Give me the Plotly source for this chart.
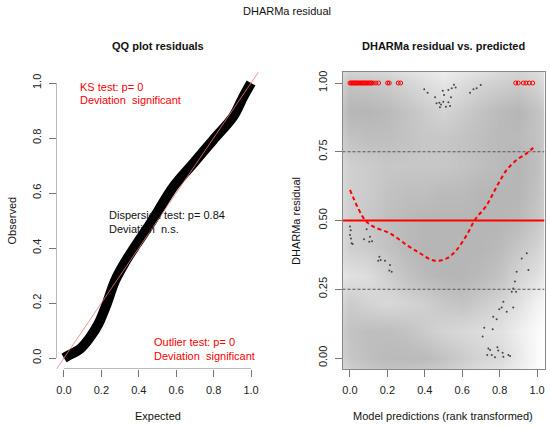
import plotly.graph_objects as go

W, H = 550, 428
FONT = "Liberation Sans, Arial, sans-serif"

# ---- QQ plot (left) ----
qq_expected = [0.0, 0.02, 0.086, 0.139, 0.184, 0.228, 0.273, 0.326, 0.389, 0.46, 0.49, 0.585, 0.692, 0.798, 0.905, 0.959, 1.0]
qq_observed = [0.0, 0.008, 0.033, 0.075, 0.124, 0.196, 0.281, 0.348, 0.415, 0.487, 0.52, 0.623, 0.708, 0.793, 0.878, 0.95, 1.0]

# ---- residual vs predicted (right) ----
grid_x = [-0.04, 0.0, 0.1, 0.2, 0.3, 0.4, 0.5, 0.6, 0.7, 0.8, 0.9, 1.0, 1.04]
grid_y = [-0.04, 0.0, 0.1, 0.2, 0.3, 0.4, 0.5, 0.6, 0.7, 0.8, 0.9, 1.0, 1.04]
density = [
    [0.45, 0.55, 0.65, 0.70, 0.70, 0.65, 0.60, 0.50, 0.40, 0.35, 0.20, 0.05, 0.00],
    [0.55, 0.65, 0.75, 0.80, 0.80, 0.80, 0.70, 0.60, 0.50, 0.45, 0.25, 0.05, 0.00],
    [0.60, 0.70, 0.75, 0.75, 0.70, 0.60, 0.50, 0.45, 0.40, 0.35, 0.20, 0.05, 0.00],
    [0.50, 0.60, 0.50, 0.45, 0.50, 0.55, 0.65, 0.70, 0.60, 0.50, 0.35, 0.15, 0.10],
    [0.30, 0.35, 0.40, 0.55, 0.70, 0.80, 0.85, 0.85, 0.80, 0.70, 0.50, 0.35, 0.25],
    [0.45, 0.55, 0.60, 0.70, 0.80, 0.85, 0.85, 0.85, 0.85, 0.80, 0.65, 0.50, 0.40],
    [0.45, 0.55, 0.65, 0.75, 0.80, 0.85, 0.85, 0.85, 0.85, 0.85, 0.80, 0.65, 0.55],
    [0.45, 0.55, 0.60, 0.70, 0.75, 0.75, 0.80, 0.80, 0.85, 0.85, 0.85, 0.70, 0.60],
    [0.45, 0.55, 0.60, 0.65, 0.65, 0.65, 0.65, 0.70, 0.75, 0.80, 0.85, 0.75, 0.60],
    [0.60, 0.70, 0.75, 0.75, 0.70, 0.65, 0.65, 0.70, 0.75, 0.80, 0.80, 0.70, 0.60],
    [0.70, 0.85, 0.85, 0.80, 0.70, 0.60, 0.50, 0.60, 0.70, 0.80, 0.85, 0.70, 0.60],
    [0.55, 0.70, 0.65, 0.60, 0.50, 0.40, 0.30, 0.40, 0.50, 0.55, 0.60, 0.50, 0.40],
    [0.40, 0.50, 0.50, 0.45, 0.35, 0.30, 0.20, 0.30, 0.35, 0.45, 0.50, 0.40, 0.30],
]

dots_x = [0.397, 0.415, 0.455, 0.463, 0.478, 0.487, 0.499, 0.513, 0.526, 0.535, 0.540, 0.503, 0.496, 0.526, 0.544, 0.556, 0.565, 0.642, 0.660, 0.677, 0.699, 0.481,
          0.0, 0.004, 0.0, 0.005, 0.009, 0.014, 0.089, 0.107, 0.075, 0.103, 0.118,
          0.157, 0.164, 0.187, 0.151, 0.214, 0.210, 0.223,
          0.945, 0.918, 0.954, 0.891, 0.882, 0.873, 0.865, 0.888, 0.820, 0.811, 0.798, 0.838, 0.873, 0.766, 0.784, 0.718, 0.763, 0.709,
          0.740, 0.749, 0.788, 0.793, 0.734, 0.758, 0.775, 0.816, 0.820, 0.847, 0.856]
dots_y = [0.977, 0.965, 0.948, 0.926, 0.928, 0.922, 0.932, 0.914, 0.930, 0.916, 0.948, 0.956, 0.972, 0.975, 0.981, 0.994, 0.984, 0.965, 0.977, 0.981, 0.993, 0.912,
          0.478, 0.465, 0.447, 0.435, 0.417, 0.415, 0.468, 0.441, 0.432, 0.423, 0.425,
          0.368, 0.356, 0.354, 0.354, 0.338, 0.318, 0.314,
          0.381, 0.362, 0.320, 0.314, 0.278, 0.253, 0.241, 0.241, 0.205, 0.184, 0.177, 0.168, 0.184, 0.150, 0.141, 0.110, 0.105, 0.078,
          0.035, 0.029, 0.039, 0.027, 0.011, 0.011, 0.003, 0.019, 0.005, 0.011, 0.007]

outlier_x = [0.0, 0.006, 0.012, 0.018, 0.024, 0.030, 0.036, 0.042, 0.048, 0.054, 0.060, 0.066, 0.072, 0.078, 0.084, 0.090, 0.097, 0.103, 0.110, 0.116,
             0.125, 0.139, 0.153, 0.201, 0.210, 0.258, 0.271,
             0.886, 0.900, 0.927, 0.941, 0.959, 0.977]
outlier_y = [1.0] * len(outlier_x)

median_x = [0.0, 0.08, 0.125, 0.214, 0.303, 0.374, 0.428, 0.463, 0.517, 0.570, 0.624, 0.668, 0.731, 0.784, 0.838, 0.891, 0.945, 0.989]
median_y = [0.611, 0.502, 0.478, 0.453, 0.411, 0.381, 0.359, 0.353, 0.362, 0.393, 0.447, 0.502, 0.556, 0.623, 0.684, 0.720, 0.744, 0.771]

ticks01 = [0, 0.2, 0.4, 0.6, 0.8, 1.0]
ticks01_text = ["0.0", "0.2", "0.4", "0.6", "0.8", "1.0"]
ticks_res = [0, 0.25, 0.5, 0.75, 1.0]
ticks_res_text = ["0.00", "0.25", "0.50", "0.75", "1.00"]

fig = go.Figure()

# left panel
fig.add_trace(go.Scatter(x=qq_expected, y=qq_observed, mode="lines", line=dict(color="black", width=10, shape="spline"),
                         xaxis="x", yaxis="y", hoverinfo="skip", showlegend=False))
fig.add_trace(go.Scatter(x=[-0.04, 1.04], y=[-0.04, 1.04], mode="lines", line=dict(color="rgba(240,120,120,0.8)", width=1),
                         xaxis="x", yaxis="y", hoverinfo="skip", showlegend=False))

# right panel
fig.add_trace(go.Heatmap(x=grid_x, y=grid_y, z=density, zmin=0, zmax=1, zsmooth="best",
                         colorscale=[[0, "#FFFFFF"], [1, "#A9A9A9"]], showscale=False, hoverinfo="skip",
                         xaxis="x2", yaxis="y2"))
fig.add_trace(go.Scatter(x=dots_x, y=dots_y, mode="markers", marker=dict(color="#444", size=2),
                         xaxis="x2", yaxis="y2", hoverinfo="skip", showlegend=False))
for yv, col, wd, dash in [(0.25, "#555", 1, "3px,2px"), (0.75, "#555", 1, "3px,2px"), (0.5, "#FF0000", 2, "solid")]:
    fig.add_trace(go.Scatter(x=[-0.04, 1.04], y=[yv, yv], mode="lines", line=dict(color=col, width=wd, dash=dash),
                             xaxis="x2", yaxis="y2", hoverinfo="skip", showlegend=False))
fig.add_trace(go.Scatter(x=median_x, y=median_y, mode="lines", line=dict(color="#FF0000", width=2, dash="4px,3px", shape="spline"),
                         xaxis="x2", yaxis="y2", hoverinfo="skip", showlegend=False))
fig.add_trace(go.Scatter(x=outlier_x, y=outlier_y, mode="markers",
                         marker=dict(symbol="circle-open", color="#FF0000", size=4, line=dict(width=1, color="#FF0000")),
                         xaxis="x2", yaxis="y2", hoverinfo="skip", showlegend=False))

y_dom = [(428 - 369) / H, (428 - 72) / H]
axis_common = dict(range=[-0.04, 1.04], showgrid=False, zeroline=False, ticks="outside", ticklen=7,
                   tickcolor="#777", tickfont=dict(family=FONT, size=11, color="#222"))

fig.update_layout(
    width=W, height=H, autosize=False, margin=dict(l=0, r=0, t=0, b=0),
    paper_bgcolor="white", plot_bgcolor="white",
    xaxis=dict(domain=[56.5 / W, 258.5 / W], anchor="y", tickvals=ticks01, ticktext=ticks01_text, showline=False,
               ticklabelstandoff=4, **axis_common),
    yaxis=dict(domain=y_dom, anchor="x", tickvals=ticks01, ticktext=ticks01_text, showline=False, tickangle=-90,
               ticklabelstandoff=3, **axis_common),
    xaxis2=dict(domain=[342.5 / W, 544.5 / W], anchor="y2", tickvals=ticks01, ticktext=ticks01_text,
                showline=True, mirror=True, linecolor="#888", linewidth=1, ticklabelstandoff=4, **axis_common),
    yaxis2=dict(domain=y_dom, anchor="x2", tickvals=ticks_res, ticktext=ticks_res_text, tickangle=-90,
                showline=True, mirror=True, linecolor="#888", linewidth=1, ticklabelstandoff=3, **axis_common),
    showlegend=False,
)

# left axis lines limited to 0..1 (R style)
fig.add_shape(type="line", xref="x", yref="y", x0=0, x1=1, y0=-0.04, y1=-0.04, line=dict(color="#777", width=1))
fig.add_shape(type="line", xref="x", yref="y", x0=-0.04, x1=-0.04, y0=0, y1=1, line=dict(color="#777", width=1))


def px_ann(text, x, y, size=11, bold=False, angle=0, color="#111"):
    t = f"<b>{text}</b>" if bold else text
    fig.add_annotation(text=t, x=x / W, y=1 - y / H, xref="paper", yref="paper", showarrow=False,
                       xanchor="center", yanchor="middle", textangle=angle,
                       font=dict(family=FONT, size=size, color=color))


px_ann("DHARMa residual", 287, 11)
px_ann("QQ plot residuals", 157.5, 45.5, bold=True)
px_ann("DHARMa residual vs. predicted", 443, 45.5, bold=True)
px_ann("Expected", 157.5, 416)
px_ann("Model predictions (rank transformed)", 443, 416)
px_ann("Observed", 11, 220.5, angle=-90)
px_ann("DHARMa residual", 296, 221, angle=-90)


def txt(text, x, y, color):
    fig.add_annotation(text=text, x=x, y=y, xref="x", yref="y", showarrow=False, xanchor="left", yanchor="middle",
                       font=dict(family=FONT, size=11, color=color))


txt("KS test: p= 0", 0.075, 0.985, "#FF0000")
txt("Deviation\u00a0 significant", 0.075, 0.938, "#FF0000")
txt("Dispersion test: p= 0.84", 0.23, 0.52, "#111")
txt("Deviation\u00a0 n.s.", 0.23, 0.469, "#111")
txt("Outlier test: p= 0", 0.469, 0.057, "#FF0000")
txt("Deviation\u00a0 significant", 0.469, 0.007, "#FF0000")

fig.write_html("out.html", config={"displayModeBar": False},
               post_script="document.body.style.margin='0';document.body.style.overflow='hidden';")
